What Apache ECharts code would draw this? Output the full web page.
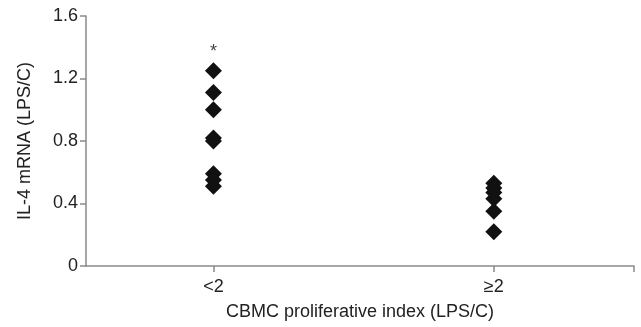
<!DOCTYPE html>
<html>
<head>
<meta charset="utf-8">
<script src="https://cdn.jsdelivr.net/npm/echarts@6/dist/echarts.min.js"></script>
<style>html,body{margin:0;padding:0;background:#fff}#c{width:641px;height:327px}</style>
</head>
<body>
<div id="c"></div>
<script>
var categories = ['<2', '\u22652'];
var groupX = [1, 3.2];
var xMax = 4.3;
var lowGroup = [1.25, 1.11, 1.00, 0.82, 0.80, 0.59, 0.55, 0.51];
var highGroup = [0.53, 0.50, 0.47, 0.43, 0.35, 0.22];
var yTicks = [0, 0.4, 0.8, 1.2, 1.6];
var significance = [{group: 0, y: 1.37, text: '*'}];

var font = '"Liberation Sans", Arial, sans-serif';
function pts(gi, vals) { return vals.map(function (v) { return [groupX[gi], v]; }); }

var chart = echarts.init(document.getElementById('c'), null, {renderer: 'canvas'});
chart.setOption({
  animation: false,
  grid: {left: 86, right: 7, top: 16, bottom: 61, containLabel: false},
  xAxis: {
    type: 'value', min: 0, max: xMax,
    name: 'CBMC proliferative index (LPS/C)',
    nameLocation: 'middle', nameGap: 37,
    nameTextStyle: {fontFamily: font, fontSize: 18, color: '#222'},
    axisLine: {show: true, lineStyle: {color: '#8a8a8a', width: 1.5}},
    axisTick: {show: true, length: 6, customValues: groupX.concat([xMax]), lineStyle: {color: '#8a8a8a', width: 1.5}},
    axisLabel: {
      customValues: groupX, margin: 12,
      fontFamily: font, fontSize: 18, color: '#222',
      formatter: function (v) { var i = groupX.indexOf(v); return i >= 0 ? categories[i] : ''; }
    },
    splitLine: {show: false}
  },
  yAxis: {
    type: 'value', min: 0, max: 1.6, interval: 0.4,
    name: 'IL-4 mRNA (LPS/C)',
    nameLocation: 'middle', nameGap: 52, nameRotate: 90,
    nameTextStyle: {fontFamily: font, fontSize: 18, color: '#222'},
    axisLine: {show: true, lineStyle: {color: '#8a8a8a', width: 1.5}},
    axisTick: {show: true, length: 6, lineStyle: {color: '#8a8a8a', width: 1.5}},
    axisLabel: {
      margin: 8, fontFamily: font, fontSize: 18, color: '#222',
      customValues: yTicks,
      formatter: function (v) { return v === 0 ? '0' : v.toFixed(1); }
    },
    splitLine: {show: false}
  },
  series: [
    {type: 'scatter', symbol: 'diamond', symbolSize: 17, itemStyle: {color: '#111', opacity: 1}, data: pts(0, lowGroup)},
    {type: 'scatter', symbol: 'diamond', symbolSize: 17, itemStyle: {color: '#111', opacity: 1}, data: pts(1, highGroup)},
    {type: 'scatter', symbolSize: 0, silent: true,
      data: significance.map(function (s) { return {value: [groupX[s.group], s.y], label: {show: true, formatter: s.text}}; }),
      label: {show: true, position: 'inside', fontFamily: font, fontSize: 18, color: '#111'}}
  ]
});
</script>
</body>
</html>
